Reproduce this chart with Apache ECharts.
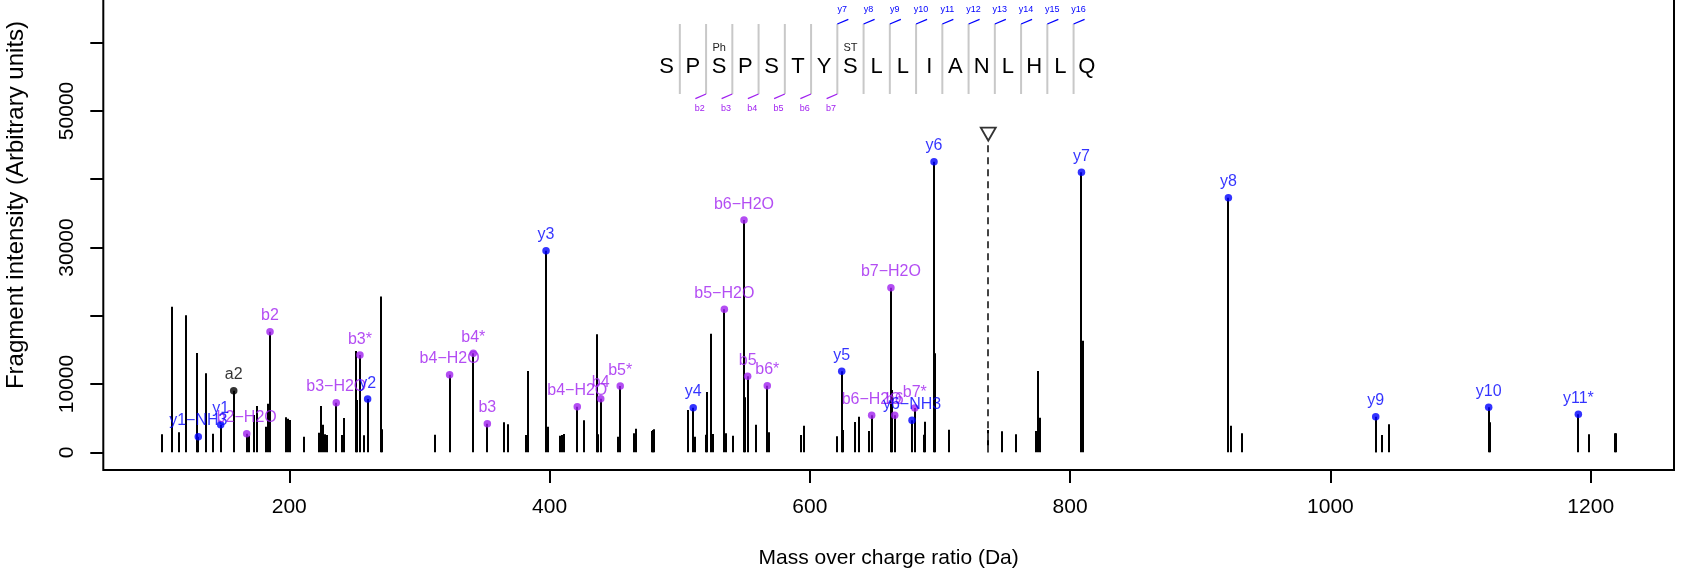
<!DOCTYPE html>
<html><head><meta charset="utf-8">
<script src="https://cdn.jsdelivr.net/npm/echarts@6/dist/echarts.min.js"></script>
<style>html,body{margin:0;padding:0;background:#fff}#c{width:1685px;height:573px}</style>
</head><body><div id="c"></div>
<script>
// ---- data ----
const peakMz = [102.2,110.1,115.2,120.4,129.1,136.2,141.4,168.8,173.1,175.0,182.1,183.4,197.2,198.8,200.3,211.3,222.8,224.4,225.9,227.4,228.7,240.3,242.3,251.0,252.3,257.2,270.2,271.5,312.2,365.0,368.0,382.1,383.4,398.6,408.2,409.5,411.3,426.4,436.4,437.4,452.3,465.1,466.4,478.5,479.5,480.5,506.4,511.7,520.3,521.0,524.3,525.3,535.3,540.7,550.4,558.4,568.4,593.2,595.7,620.9,625.5,634.7,637.5,645.5,663.4,688.0,688.7,696.4,706.7,737.1,747.6,758.4,773.5,775.3,776.6,809.8,923.5,931.9,1035.4,1039.3,1044.8,1122.6,1198.7,1218.8,1219.5];
const peakInt = [2637,21330,2930,20066,14545,11570,2724,2440,5464,6782,3750,7120,5127,4920,4731,2285,2871,6782,4043,2637,2538,2538,5024,14838,7661,2490,22807,3369,2578,4394,4101,2538,11908,3750,2441,2538,2685,4687,17284,2637,2285,2783,3457,3120,3266,3369,6196,2285,2580,8833,17372,2685,2783,2441,8056,4043,2930,2538,3896,2343,3266,4438,5215,3120,9125,2578,4482,14501,3311,3266,3076,2637,3120,11908,5068,16347,3896,2783,3413,2538,4101,4394,2637,2783,2783];

const yIonNames = ['y1\u2212NH3','y1','y2','y3','y4','y5','y6\u2212NH3','y6','y7','y8','y9','y10','y11*'];
const yIonMz    = [130.1,147.3,260.2,397.3,510.4,624.5,678.5,695.4,808.7,921.6,1034.8,1121.6,1190.5];
const yIonInt   = [2285,4043,7807,29530,6533,11864,4687,42567,41013,37293,5215,6591,5566];

const bIonNames = ['b2\u2212H2O','b2','b3\u2212H2O','b3*','b4\u2212H2O','b4*','b3','b4\u2212H2O','b4','b5*','b5\u2212H2O','b6\u2212H2O','b5','b6*','b6\u2212H2O','b7\u2212H2O','b6','b7*'];
const bIonMz    = [167.3,185.2,236.1,254.3,323.2,341.4,352.2,421.3,439.3,454.3,534.3,549.4,552.2,567.3,647.5,662.3,665.2,680.6];
const bIonInt   = [2724,17666,7266,14252,11367,14501,4189,6680,7852,9711,20946,34027,11132,9755,5420,24110,5420,6489];

const aIonNames = ['a2'];
const aIonMz    = [157.3];
const aIonInt   = [9023];

const precursorMz = 737.1;
const precursorInt = 45500;
const precursorMarkInt = 46600;

const xTicks = [200,400,600,800,1000,1200];
const yTicks = [0,10000,20000,30000,40000,50000,60000];
const yTickLabels = [0,10000,30000,50000];

const residues = ['S','P','S','P','S','T','Y','S','L','L','I','A','N','L','H','L','Q'];
const modPos  = [3,8];
const modText = ['Ph','ST'];
const bSeqIons = [2,3,4,5,6,7];
const ySeqIons = [7,8,9,10,11,12,13,14,15,16];

// ---- chart ----
const FONT = "'Liberation Sans', Arial, Helvetica, sans-serif";
const PURPLE = '#A020F0', BLUE = '#0000FF';
const chart = echarts.init(document.getElementById('c'));

const stemData = peakMz.map((m,i)=>[m,peakInt[i]])
  .concat(yIonMz.map((m,i)=>[m,yIonInt[i]]))
  .concat(bIonMz.map((m,i)=>[m,bIonInt[i]]))
  .concat(aIonMz.map((m,i)=>[m,aIonInt[i]]));

function stemRender(params, api){
  const top = api.coord([api.value(0), api.value(1)]);
  const base = api.coord([api.value(0), 0]);
  const x = Math.round(top[0]);
  return {type:'line', shape:{x1:x,y1:base[1],x2:x,y2:top[1]},
          style:{stroke:'#000', lineWidth:2}};
}
function precRender(params, api){
  const top = api.coord([api.value(0), api.value(1)]);
  const base = api.coord([api.value(0), 0]);
  const x = Math.round(top[0]);
  return {type:'line', shape:{x1:x,y1:base[1],x2:x,y2:top[1]},
          style:{stroke:'#444', lineWidth:2, lineDash:[7,5]}};
}
function ionSeries(names, mz, inten, color){
  return {type:'scatter', symbol:'circle', symbolSize:7.5, z:5,
    itemStyle:{color:color},
    label:{show:true, position:'top', distance:4, formatter:p=>p.name,
           color:color, fontSize:16, fontFamily:FONT},
    data:names.map((n,i)=>({name:n, value:[mz[i], inten[i]]}))};
}

// sequence header graphics
const seqX0 = 666.7, seqStep = 26.25, seqY = 66.7;
const graphics = [];
residues.forEach((r,i)=>{
  graphics.push({type:'text', x:seqX0+i*seqStep, y:seqY, style:{text:r, fontSize:22, fontFamily:FONT, fill:'#000', align:'center', verticalAlign:'middle'}});
});
for(let k=1;k<residues.length;k++){
  const sx = seqX0+(k-1)*seqStep+seqStep/2;
  graphics.push({type:'line', shape:{x1:sx,y1:24,x2:sx,y2:94}, style:{stroke:'#c8c8c8', lineWidth:2}});
}
bSeqIons.forEach(k=>{
  const sx = seqX0+(k-1)*seqStep+seqStep/2;
  graphics.push({type:'line', shape:{x1:sx-10.7,y1:98.7,x2:sx,y2:94}, style:{stroke:PURPLE, lineWidth:1.3}});
  graphics.push({type:'text', x:sx-6.3, y:108.3, style:{text:'b'+k, fontSize:9, fontFamily:FONT, fill:PURPLE, align:'center', verticalAlign:'middle'}});
});
ySeqIons.forEach(k=>{
  const sx = seqX0+(k-1)*seqStep+seqStep/2;
  graphics.push({type:'line', shape:{x1:sx,y1:24,x2:sx+11,y2:19.3}, style:{stroke:BLUE, lineWidth:1.3}});
  graphics.push({type:'text', x:sx+5, y:9.3, style:{text:'y'+k, fontSize:9, fontFamily:FONT, fill:BLUE, align:'center', verticalAlign:'middle'}});
});
modPos.forEach((p,i)=>{
  graphics.push({type:'text', x:seqX0+(p-1)*seqStep, y:48.3, style:{text:modText[i], fontSize:11, fontFamily:FONT, fill:'#222', align:'center', verticalAlign:'middle'}});
});
graphics.push({type:'text', x:16, y:205, rotation:Math.PI/2, style:{text:'Fragment intensity (Arbitrary units)', fontSize:24, fontFamily:FONT, fill:'#000', align:'center', verticalAlign:'middle'}});

chart.setOption({
  animation:false,
  backgroundColor:'#fff',
  grid:{left:103.3, right:11, top:-8, bottom:103, show:true, borderColor:'#000', borderWidth:2, outerBoundsMode:'none', containLabel:false},
  xAxis:{type:'value', min:57.1, max:1264, splitLine:{show:false},
    axisLine:{show:false, onZero:false},
    axisTick:{show:true, customValues:xTicks, length:13, lineStyle:{color:'#000', width:2}},
    axisLabel:{customValues:xTicks, fontSize:21, fontFamily:FONT, color:'#000', margin:27, formatter:v=>String(v)},
    name:'Mass over charge ratio (Da)', nameLocation:'middle', nameGap:78,
    nameTextStyle:{fontSize:21, fontFamily:FONT, color:'#000'}},
  yAxis:{type:'value', min:-2593, max:67424, splitLine:{show:false},
    axisLine:{show:false, onZero:false},
    axisTick:{show:true, customValues:yTicks, length:13, lineStyle:{color:'#000', width:2}},
    axisLabel:{customValues:yTickLabels, rotate:90, fontSize:21, fontFamily:FONT, color:'#000', margin:26, formatter:v=>String(v)}},
  graphic:graphics,
  series:[
    {type:'custom', renderItem:stemRender, data:stemData, encode:{x:0,y:1}, z:2},
    {type:'custom', renderItem:precRender, data:[[precursorMz, precursorInt]], encode:{x:0,y:1}, z:2},
    {type:'scatter', symbol:'path://M0,0 L10,0 L5,9 Z', symbolSize:[15,13], z:4,
      itemStyle:{color:'rgba(0,0,0,0)', borderColor:'#000', borderWidth:1.8},
      data:[[precursorMz, precursorMarkInt]]},
    ionSeries(aIonNames, aIonMz, aIonInt, '#000'),
    ionSeries(bIonNames, bIonMz, bIonInt, PURPLE),
    ionSeries(yIonNames, yIonMz, yIonInt, BLUE)
  ]
});
</script></body></html>
